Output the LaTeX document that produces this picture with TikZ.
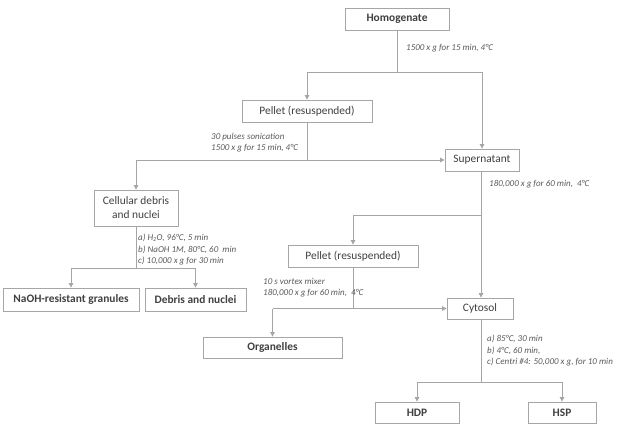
\documentclass[tikz,border=0pt]{standalone}
\usepackage{fontspec}
\setmainfont{Carlito}
\usetikzlibrary{arrows.meta}
\definecolor{boxc}{HTML}{A6A6A6}
\definecolor{linec}{HTML}{A5A5A5}
\definecolor{txtc}{HTML}{404040}
\definecolor{lblc}{HTML}{595959}
\tikzset{
  box/.style={draw=boxc, line width=0.8pt, fill=white, text=txtc, font=\fontsize{11.4}{14}\selectfont, inner sep=0pt, align=center},
  bbox/.style={box, font=\fontsize{11.4}{14}\selectfont\bfseries},
  conn/.style={draw=linec, line width=0.8pt},
  arr/.style={conn, -{Triangle[width=4.5pt,length=4.5pt]}},
  lbl/.style={text=lblc, font=\fontsize{9}{11.5}\selectfont\itshape, anchor=west, align=left, inner sep=0pt}
}
\begin{document}
\begin{tikzpicture}[x=1pt,y=-1pt]
\useasboundingbox (0,0) rectangle (617,425);
% boxes
\node[bbox, minimum width=104pt, minimum height=22pt] (hom) at (397,19) {Homogenate};
\node[box, minimum width=130pt, minimum height=22pt] (pel1) at (307,111) {Pellet (resuspended)};
\node[box, minimum width=74pt, minimum height=22pt] (sup) at (482,160) {Supernatant};
\node[box, minimum width=84pt, minimum height=36pt] (deb) at (136,208) {Cellular debris\\and nuclei};
\node[bbox, minimum width=136pt, minimum height=23pt] (naoh) at (71,299.5) {NaOH-resistant granules};
\node[bbox, minimum width=101pt, minimum height=23pt] (dn) at (195.5,299.5) {Debris and nuclei};
\node[box, minimum width=130pt, minimum height=22pt] (pel2) at (353,256) {Pellet (resuspended)};
\node[box, minimum width=66pt, minimum height=21pt] (cyt) at (480,308.5) {Cytosol};
\node[bbox, minimum width=139pt, minimum height=21pt] (org) at (272.5,347.5) {Organelles};
\node[bbox, minimum width=84pt, minimum height=21pt] (hdp) at (417,412.5) {HDP};
\node[bbox, minimum width=68pt, minimum height=21pt] (hsp) at (562,412.5) {HSP};
% junctions
\coordinate (j1) at (397,72);
\coordinate (j2) at (307,160);
\coordinate (j3) at (136,268);
\coordinate (j4) at (481,215);
\coordinate (j5) at (353,308.5);
\coordinate (j6) at (481,382);
% connectors
\draw[conn] (hom.south) -- (j1);
\draw[arr] (j1) -| (pel1.north);
\draw[arr] (j1) -| (sup.north);
\draw[conn] (pel1.south) -- (j2);
\draw[arr] (j2) -| (deb.north);
\draw[arr] (j2) -- (sup.west);
\draw[conn] (deb.south) -- (j3);
\draw[arr] (j3) -| (naoh.north);
\draw[arr] (j3) -| (dn.north);
\draw[arr] (sup.south -| j4) -- (cyt.north -| j4);
\draw[arr] (j4) -| (pel2.north);
\draw[conn] (pel2.south) -- (j5);
\draw[arr] (j5) -- (cyt.west);
\draw[conn] (j5) -- (272.5,308.5) coordinate (j5b);
\draw[arr] (j5b) -- (org.north);
\draw[conn] (cyt.south -| j6) -- (j6);
\draw[arr] (j6) -| (hdp.north);
\draw[arr] (j6) -| (hsp.north);
% labels
\node[lbl] (l1) at (406,48) {1500 x g for 15 min, 4°C};
\node[lbl] (l2) at (211,142.5) {30 pulses sonication\\1500 x g for 15 min, 4°C};
\node[lbl] (l3) at (489,184) {180,000 x g for 60 min,\ \ 4°C};
\node[lbl] (l4) at (138,249.5) {a) H\textsubscript{2}O, 96°C, 5 min\\b) NaOH 1M, 80°C, 60\ \ min\\c) 10,000 x g for 30 min};
\node[lbl] (l5) at (263,287.5) {10 s vortex mixer\\180,000 x g for 60 min,\ \ 4°C};
\node[lbl] (l6) at (487,350.5) {a) 85°C, 30 min\\b) 4°C, 60 min,\\c) Centri \#4: 50,000 x g, for 10 min};
\end{tikzpicture}
\end{document}
